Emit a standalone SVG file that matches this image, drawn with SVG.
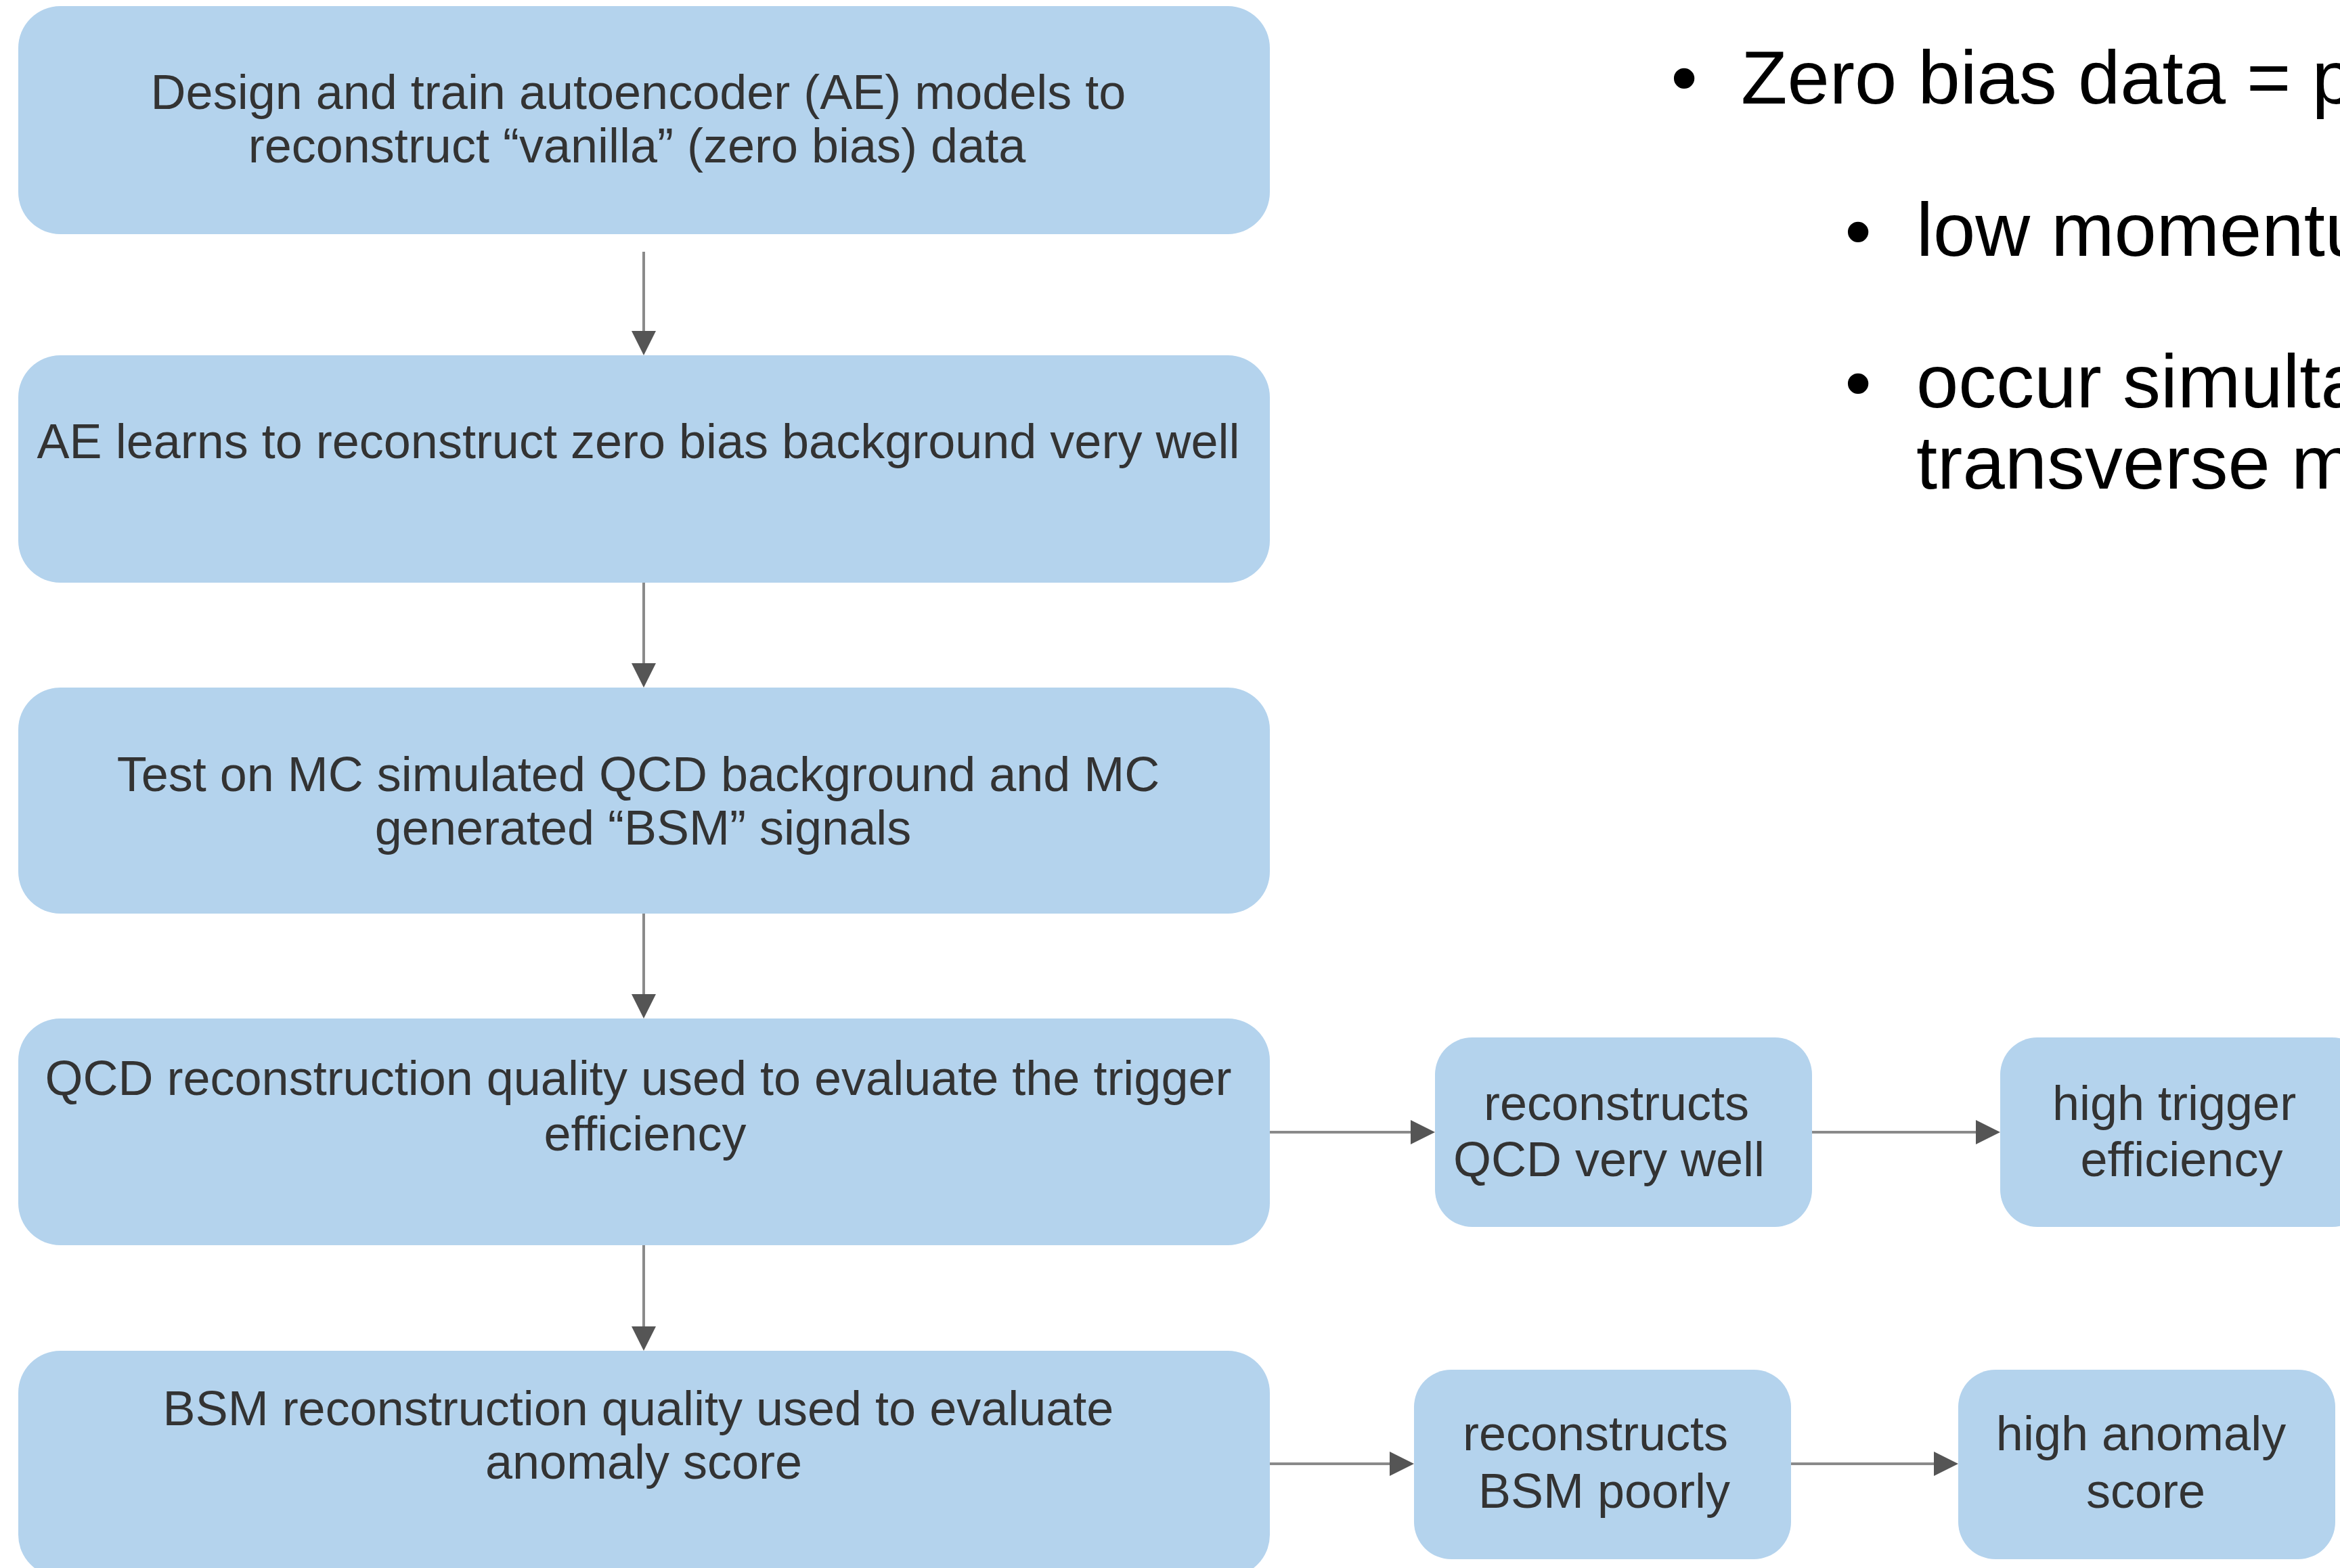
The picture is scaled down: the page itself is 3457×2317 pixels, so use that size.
<svg xmlns="http://www.w3.org/2000/svg" width="3457" height="2317" viewBox="0 0 3457 2317">
  <defs>
    <style>
      .box { fill: #b4d3ed; }
      .t { font-family: "Liberation Sans", Arial, sans-serif; font-size: 72px; fill: #333333; text-anchor: middle; }
      .b { font-family: "Liberation Sans", Arial, sans-serif; font-size: 112px; fill: #000000; }
      .bm { text-anchor: middle; }
      .conn { stroke: #8a8a8a; stroke-width: 4; fill: none; marker-end: url(#arrow); }
    </style>
    <marker id="arrow" markerUnits="userSpaceOnUse" markerWidth="36" markerHeight="36" viewBox="0 0 36 36" refX="28" refY="18" orient="auto">
      <path d="M0,0 L36,18 L0,36 Z" fill="#555555"/>
    </marker>
  </defs>
  <rect width="3457" height="2317" fill="#ffffff"/>

  <g id="connectors">
    <line class="conn" x1="951" y1="372" x2="951" y2="517"/>
    <line class="conn" x1="951" y1="861" x2="951" y2="1008"/>
    <line class="conn" x1="951" y1="1350" x2="951" y2="1497"/>
    <line class="conn" x1="951" y1="1840" x2="951" y2="1988"/>
    <line class="conn" x1="1876" y1="1673" x2="2112" y2="1673"/>
    <line class="conn" x1="2677" y1="1673" x2="2947" y2="1673"/>
    <line class="conn" x1="1876" y1="2163" x2="2081" y2="2163"/>
    <line class="conn" x1="2646" y1="2163" x2="2885" y2="2163"/>
  </g>

  <g id="node-design">
    <rect class="box" x="27" y="9" width="1849" height="337" rx="62" ry="62"/>
    <text class="t" x="943" y="161">Design and train autoencoder (AE) models to</text>
    <text class="t" x="941" y="240">reconstruct “vanilla” (zero bias) data</text>
  </g>

  <g id="node-learns">
    <rect class="box" x="27" y="525" width="1849" height="336" rx="62" ry="62"/>
    <text class="t" x="943" y="677">AE learns to reconstruct zero bias background very well</text>
  </g>

  <g id="node-test">
    <rect class="box" x="27" y="1016" width="1849" height="334" rx="62" ry="62"/>
    <text class="t" x="943" y="1169">Test on MC simulated QCD background and MC</text>
    <text class="t" x="950" y="1248">generated “BSM” signals</text>
  </g>

  <g id="node-qcd-quality">
    <rect class="box" x="27" y="1505" width="1849" height="335" rx="62" ry="62"/>
    <text class="t" x="943" y="1618">QCD reconstruction quality used to evaluate the trigger</text>
    <text class="t" x="953" y="1700">efficiency</text>
  </g>

  <g id="node-bsm-quality">
    <rect class="box" x="27" y="1996" width="1849" height="334" rx="62" ry="62"/>
    <text class="t" x="943" y="2106">BSM reconstruction quality used to evaluate</text>
    <text class="t" x="951" y="2185">anomaly score</text>
  </g>

  <g id="node-qcd-well">
    <rect class="box" x="2120" y="1533" width="557" height="280" rx="55" ry="55"/>
    <text class="t" x="2388" y="1655">reconstructs</text>
    <text class="t" x="2377" y="1738">QCD very well</text>
  </g>

  <g id="node-trigger">
    <rect class="box" x="2955" y="1533" width="545" height="280" rx="55" ry="55"/>
    <text class="t" x="3212" y="1655">high trigger</text>
    <text class="t" x="3223" y="1738">efficiency</text>
  </g>

  <g id="node-bsm-poorly">
    <rect class="box" x="2089" y="2024" width="557" height="280" rx="55" ry="55"/>
    <text class="t" x="2357" y="2143">reconstructs</text>
    <text class="t" x="2370" y="2228">BSM poorly</text>
  </g>

  <g id="node-anomaly">
    <rect class="box" x="2893" y="2024" width="557" height="280" rx="55" ry="55"/>
    <text class="t" x="3163" y="2143">high anomaly</text>
    <text class="t" x="3170" y="2228">score</text>
  </g>

  <g id="bullets">
    <text class="b bm" x="2488" y="153">•</text>
    <text class="b" x="2572" y="153">Zero bias data = p</text>
    <text class="b bm" x="2745" y="380">•</text>
    <text class="b" x="2831" y="378">low momentu</text>
    <text class="b bm" x="2745" y="604">•</text>
    <text class="b" x="2831" y="602">occur simulta</text>
    <text class="b" x="2831" y="722">transverse m</text>
  </g>
</svg>
